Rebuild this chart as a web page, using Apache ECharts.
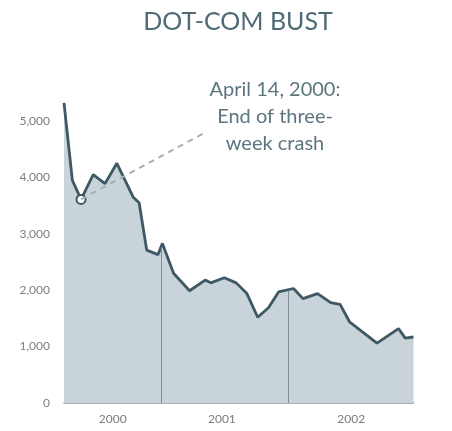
<!DOCTYPE html>
<html>
<head>
<meta charset="utf-8">
<script src="https://cdn.jsdelivr.net/npm/echarts@6/dist/echarts.min.js"></script>
<style>html,body{margin:0;padding:0;background:#fff}#c{width:452px;height:431px}</style>
</head>
<body>
<div id="c"></div>
<script>
const titleText = 'DOT-COM BUST';
const annotationLines = ['April 14, 2000:', 'End of three-', 'week crash'];
const dates = ['2000-03-27','2000-04-20','2000-05-15','2000-06-19','2000-07-23','2000-08-26','2000-10-12','2000-10-29','2000-11-20','2000-12-22',
  '2001-01-04','2001-02-05','2001-03-23','2001-05-07','2001-05-23','2001-07-01','2001-08-04','2001-09-04','2001-10-05','2001-11-05','2001-12-04',
  '2002-01-16','2002-02-12','2002-03-26','2002-05-03','2002-05-30','2002-06-26','2002-08-15','2002-09-13','2002-11-14','2002-12-03','2002-12-27'];
const values = [5320,3950,3610,4050,3890,4250,3650,3550,2710,2630,
  2830,2300,1990,2180,2130,2220,2130,1940,1520,1690,1970,
  2030,1850,1940,1780,1750,1440,1200,1060,1320,1150,1170];
const highlightIndex = 2;
const yearLabelDates = ['2000-08-14','2001-06-24','2002-07-01'];
const yearDividers = [['2001-01-01', 2760], ['2002-01-01', 1990]];
const annotationEnd = ['2001-05-11', 4810];

const FONT = 'Lato, "Noto Sans", sans-serif';
const t = d => Date.parse(d);
const seriesData = dates.map((d, i) => i === highlightIndex
  ? { value: [t(d), values[i]], symbol: 'circle', symbolSize: 9,
      itemStyle: { color: '#ffffff', borderColor: '#3e5864', borderWidth: 2 } }
  : [t(d), values[i]]);

const chart = echarts.init(document.getElementById('c'));
chart.setOption({
  animation: false,
  backgroundColor: '#ffffff',
  grid: { left: 64, right: 38.5, top: 64.6, bottom: 28 },
  xAxis: {
    type: 'value',
    min: t(dates[0]), max: t(dates[dates.length - 1]),
    axisLine: { show: true, lineStyle: { color: '#8d9ca3', width: 1.5 } },
    axisTick: { show: false },
    splitLine: { show: false },
    axisLabel: {
      customValues: yearLabelDates.map(t),
      formatter: v => String(new Date(v).getUTCFullYear()),
      color: '#7e7e7e', fontSize: 12, margin: 10, fontFamily: FONT
    }
  },
  yAxis: {
    type: 'value', min: 0, max: 6000, interval: 1000,
    axisLine: { show: false }, axisTick: { show: false }, splitLine: { show: false },
    axisLabel: {
      showMaxLabel: false,
      formatter: v => v === 6000 ? '' : v.toLocaleString('en-US'),
      color: '#7e7e7e', fontSize: 12, margin: 14, fontFamily: FONT
    }
  },
  series: [{
    type: 'line',
    data: seriesData,
    symbol: 'none',
    showSymbol: true,
    lineStyle: { color: '#3e5864', width: 2.8 },
    areaStyle: { color: '#c9d4da', opacity: 1 },
    z: 3,
    markLine: {
      silent: true,
      symbol: ['none', 'none'],
      label: { show: false },
      data: [
        ...yearDividers.map(([d, v]) => [
          { coord: [t(d), 0], lineStyle: { color: '#7d8f98', width: 1, type: 'solid' } },
          { coord: [t(d), v] }
        ]),
        [
          { coord: [t(dates[highlightIndex]), values[highlightIndex]], lineStyle: { color: '#a3afb5', width: 2, type: [6, 5] } },
          { coord: [t(annotationEnd[0]), annotationEnd[1]] }
        ]
      ]
    }
  }],
  graphic: [
    { type: 'text', x: 238, y: 22,
      style: { text: titleText, fill: '#4f6b76', font: '25px ' + FONT, textAlign: 'center', textVerticalAlign: 'middle' } },
    { type: 'text', x: 275, y: 76,
      style: { text: annotationLines.join('\n'), fill: '#5c767f', font: '20px ' + FONT, lineHeight: 27, textAlign: 'center', textVerticalAlign: 'top' } }
  ]
});
</script>
</body>
</html>
